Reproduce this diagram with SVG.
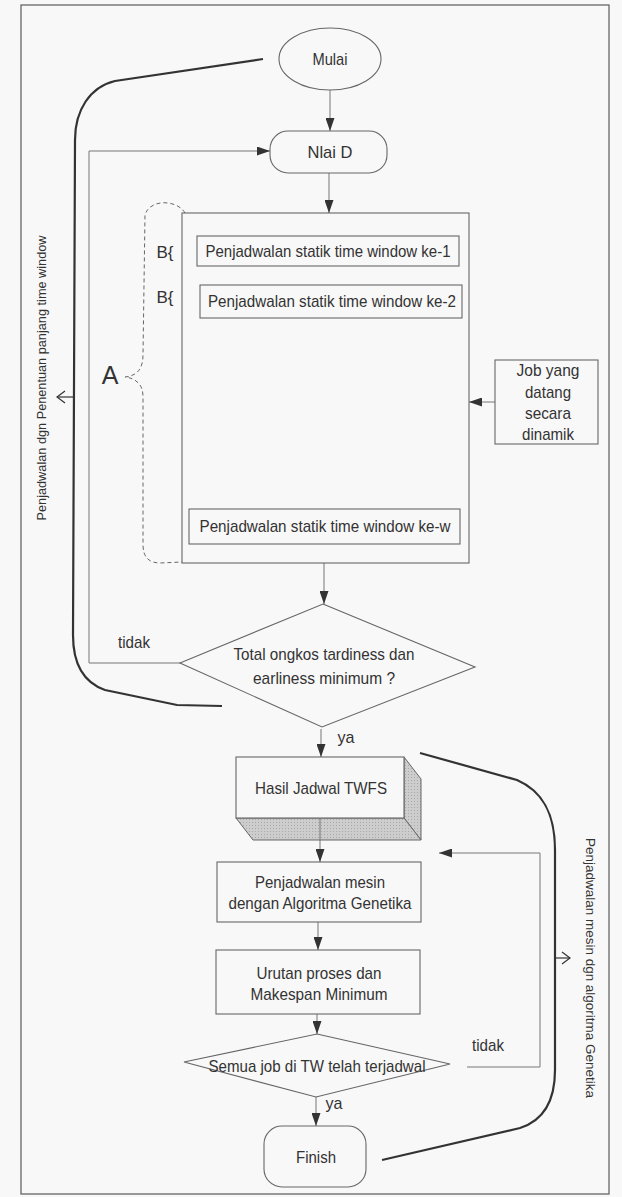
<svg xmlns="http://www.w3.org/2000/svg" width="622" height="1197" viewBox="0 0 622 1197">
<style>
.bg{fill:#f8f8f8}
.frame{fill:none;stroke:#666;stroke-width:1.3}
.node{fill:#f8f8f8;stroke:#666;stroke-width:1.1}
.thin{fill:none;stroke:#777;stroke-width:1}
.thick{fill:none;stroke:#333;stroke-width:2.2}
.dash{fill:none;stroke:#666;stroke-width:1;stroke-dasharray:4,3}
.dashdot{fill:none;stroke:#777;stroke-width:1;stroke-dasharray:6,2,1,2}
.t{font-family:"Liberation Sans",Arial,sans-serif;font-size:17px;fill:#333;text-anchor:middle}
.side{font-family:"Liberation Sans",Arial,sans-serif;font-size:12px;fill:#333;text-anchor:middle}
.shade{fill:#c4c4c4;stroke:#666;stroke-width:1}
</style>
<defs>
<pattern id="stip" width="3" height="3" patternUnits="userSpaceOnUse">
<rect width="3" height="3" fill="#cdcdcd"/>
<rect width="1" height="1" fill="#a8a8a8"/>
</pattern>
<marker id="ah" markerUnits="userSpaceOnUse" markerWidth="13" markerHeight="9" refX="13" refY="4.5" orient="auto">
<path d="M0,0 L13,4.5 L0,9 z" fill="#333"/>
</marker>
<marker id="oa" markerUnits="userSpaceOnUse" markerWidth="10" markerHeight="14" refX="9" refY="7" orient="auto">
<path d="M1,1 L9,7 L1,13" fill="none" stroke="#333" stroke-width="1.2"/>
</marker>
</defs>
<rect class="bg" x="0" y="0" width="622" height="1197"/>
<rect class="frame" x="21" y="5" width="588" height="1189"/>

<g id="connectors">
<path class="thin" d="M330,90 L330,131" marker-end="url(#ah)"/>
<path class="thin" d="M329,173 L329,213" marker-end="url(#ah)"/>
<path class="dashdot" d="M326,318 L326,509" marker-end="url(#ah)"/>
<path class="thin" d="M495,402 L469,402" marker-end="url(#ah)"/>
<path class="thin" d="M324,563 L324,604" marker-end="url(#ah)"/>
<path class="thin" d="M190,663 L89,663 L89,151 L270,151" marker-end="url(#ah)"/>
<path class="thin" d="M321,729 L321,757" marker-end="url(#ah)"/>
<path class="thin" d="M320,818 L320,862" marker-end="url(#ah)"/>
<path class="thin" d="M318,922 L318,950" marker-end="url(#ah)"/>
<path class="thin" d="M317,1014 L317,1034" marker-end="url(#ah)"/>
<path class="thin" d="M316,1097 L316,1126" marker-end="url(#ah)"/>
<path class="thin" d="M467,1067 L540,1067 L540,853 L439,853" marker-end="url(#ah)"/>
<path class="thick" d="M263,59 L115,81 C90,87 75,110 75,140 L73,635 C73,665 85,683 105,690 L177,705 L222,706"/>
<path class="thick" d="M382,1160 L520,1128 C545,1120 555,1100 555,1070 L555,850 C555,810 540,790 517,780 L420,753"/>
<path class="thin" d="M73,397 L57,397" marker-end="url(#oa)" style="stroke:#333;stroke-width:1.2"/>
<path class="thin" d="M555,958 L570,958" marker-end="url(#oa)" style="stroke:#333;stroke-width:1.2"/>
<path class="dash" d="M185,213 C178,200 150,198 145,215 L143,355 C143,370 136,376 125,377 C136,378 143,385 143,396 L143,545 C143,558 150,563 160,563 L182,562"/>
</g>

<g id="label-left">
<text class="side" transform="translate(46,378) rotate(-90)" textLength="285" lengthAdjust="spacingAndGlyphs">Penjadwalan dgn Penentuan panjang time window</text>
</g>
<g id="label-right">
<text class="side" transform="translate(586,968) rotate(90)" textLength="260" lengthAdjust="spacingAndGlyphs">Penjadwalan mesin dgn algoritma Genetika</text>
</g>

<g id="mulai">
<ellipse class="node" cx="330" cy="59" rx="51" ry="31"/>
<text class="t" x="330" y="65" textLength="35" lengthAdjust="spacingAndGlyphs">Mulai</text>
</g>
<g id="nilai-d">
<rect class="node" x="270" y="131" width="117" height="42" rx="18"/>
<text class="t" x="330" y="158" textLength="45" lengthAdjust="spacingAndGlyphs">Nlai D</text>
</g>
<g id="container-a">
<rect class="node" x="182" y="213" width="287" height="350"/>
<text class="t" x="110" y="384" style="font-size:25px">A</text>
</g>
<g id="tw1">
<text class="t" x="165" y="258">B{</text>
<rect class="node" x="197" y="236" width="262" height="30"/>
<text class="t" x="328" y="257" textLength="245" lengthAdjust="spacingAndGlyphs">Penjadwalan statik time window ke-1</text>
</g>
<g id="tw2">
<text class="t" x="165" y="303">B{</text>
<rect class="node" x="200" y="285" width="262" height="33"/>
<text class="t" x="332" y="307" textLength="248" lengthAdjust="spacingAndGlyphs">Penjadwalan statik time window ke-2</text>
</g>
<g id="tww">
<rect class="node" x="189" y="509" width="271" height="35"/>
<text class="t" x="325" y="532" textLength="251" lengthAdjust="spacingAndGlyphs">Penjadwalan statik time window ke-w</text>
</g>
<g id="job">
<rect class="node" x="495" y="360" width="103" height="84"/>
<text class="t" x="548" y="376" textLength="63" lengthAdjust="spacingAndGlyphs">Job yang</text>
<text class="t" x="548" y="398" textLength="46" lengthAdjust="spacingAndGlyphs">datang</text>
<text class="t" x="548" y="419" textLength="46" lengthAdjust="spacingAndGlyphs">secara</text>
<text class="t" x="548" y="440" textLength="52" lengthAdjust="spacingAndGlyphs">dinamik</text>
</g>
<g id="decision1">
<polygon class="node" points="323,604 475,667 322,727 180,663"/>
<text class="t" x="324" y="660" textLength="181" lengthAdjust="spacingAndGlyphs">Total ongkos tardiness dan</text>
<text class="t" x="324" y="684" textLength="142" lengthAdjust="spacingAndGlyphs">earliness minimum ?</text>
<text class="t" x="134" y="648" textLength="32" lengthAdjust="spacingAndGlyphs">tidak</text>
<text class="t" x="346" y="743" textLength="17" lengthAdjust="spacingAndGlyphs">ya</text>
</g>
<g id="hasil">
<polygon class="shade" points="404,757 421,779 421,840 404,818" fill="url(#stip)" style="fill:url(#stip)"/>
<polygon class="shade" points="236,818 404,818 421,840 253,840" style="fill:url(#stip)"/>
<rect class="node" x="236" y="757" width="168" height="61"/>
<line x1="320" y1="818" x2="320" y2="840" stroke="#777" stroke-width="1"/>
<text class="t" x="321" y="794" textLength="132" lengthAdjust="spacingAndGlyphs">Hasil Jadwal TWFS</text>
</g>
<g id="ga">
<rect class="node" x="217" y="862" width="204" height="60"/>
<text class="t" x="320" y="888" textLength="130" lengthAdjust="spacingAndGlyphs">Penjadwalan mesin</text>
<text class="t" x="320" y="909" textLength="183" lengthAdjust="spacingAndGlyphs">dengan Algoritma Genetika</text>
</g>
<g id="urutan">
<rect class="node" x="216" y="950" width="204" height="64"/>
<text class="t" x="319" y="979" textLength="125" lengthAdjust="spacingAndGlyphs">Urutan proses dan</text>
<text class="t" x="319" y="1000" textLength="137" lengthAdjust="spacingAndGlyphs">Makespan Minimum</text>
</g>
<g id="decision2">
<polygon class="node" points="317,1034 450,1064 316,1097 184,1062"/>
<text class="t" x="317" y="1072" textLength="217" lengthAdjust="spacingAndGlyphs">Semua job di TW telah terjadwal</text>
<text class="t" x="488" y="1051" textLength="32" lengthAdjust="spacingAndGlyphs">tidak</text>
<text class="t" x="334" y="1109" textLength="17" lengthAdjust="spacingAndGlyphs">ya</text>
</g>
<g id="finish">
<rect class="node" x="264" y="1126" width="102" height="61" rx="18"/>
<text class="t" x="316" y="1163" textLength="40" lengthAdjust="spacingAndGlyphs">Finish</text>
</g>
</svg>
